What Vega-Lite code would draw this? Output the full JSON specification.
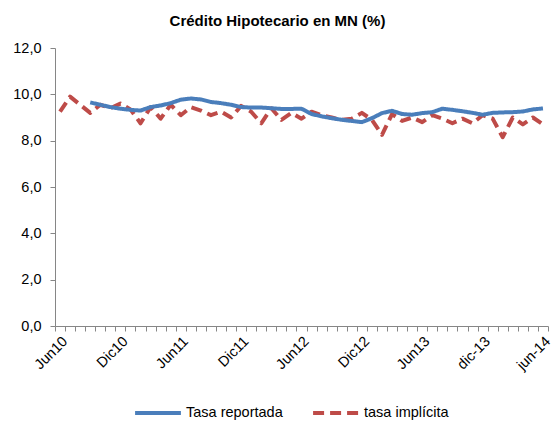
{
  "$schema": "https://vega.github.io/schema/vega-lite/v6.json",
  "width": 493,
  "height": 278,
  "autosize": {"type": "none"},
  "padding": {"left": 55, "top": 48, "right": 10, "bottom": 102},
  "background": "white",
  "config": {
    "view": {"stroke": null},
    "font": "Liberation Sans, Arial",
    "axis": {"domainColor": "#868686", "tickColor": "#868686", "labelColor": "#000000", "labelFont": "Liberation Sans", "labelFontSize": 14.5, "grid": false}
  },
  "title": {
    "text": "Crédito Hipotecario en MN (%)",
    "fontSize": 15,
    "fontWeight": "bold",
    "font": "Liberation Sans",
    "anchor": "middle",
    "dx": -24,
    "offset": 11,
    "color": "#000000"
  },
  "data": {
    "values": [
      {"m": "Jun10", "i": 9.25},
      {"m": "Jul10", "i": 9.9},
      {"m": "Ago10", "i": 9.55},
      {"m": "Sep10", "i": 9.2, "r": 9.65},
      {"m": "Oct10", "i": 9.55, "r": 9.55},
      {"m": "Nov10", "i": 9.4, "r": 9.45},
      {"m": "Dic10", "i": 9.6, "r": 9.38},
      {"m": "Ene11", "i": 9.35, "r": 9.33},
      {"m": "Feb11", "i": 8.75, "r": 9.3},
      {"m": "Mar11", "i": 9.45, "r": 9.45},
      {"m": "Abr11", "i": 8.95, "r": 9.52},
      {"m": "May11", "i": 9.55, "r": 9.62},
      {"m": "Jun11", "i": 9.1, "r": 9.77},
      {"m": "Jul11", "i": 9.45, "r": 9.82},
      {"m": "Ago11", "i": 9.3, "r": 9.78},
      {"m": "Sep11", "i": 9.1, "r": 9.67},
      {"m": "Oct11", "i": 9.25, "r": 9.62},
      {"m": "Nov11", "i": 9.0, "r": 9.55},
      {"m": "Dic11", "i": 9.5, "r": 9.45},
      {"m": "Ene12", "i": 9.25, "r": 9.43},
      {"m": "Feb12", "i": 8.75, "r": 9.43},
      {"m": "Mar12", "i": 9.4, "r": 9.4},
      {"m": "Abr12", "i": 8.9, "r": 9.37},
      {"m": "May12", "i": 9.2, "r": 9.37},
      {"m": "Jun12", "i": 8.95, "r": 9.38},
      {"m": "Jul12", "i": 9.25, "r": 9.15},
      {"m": "Ago12", "i": 9.1, "r": 9.05},
      {"m": "Sep12", "i": 9.0, "r": 8.97},
      {"m": "Oct12", "i": 8.9, "r": 8.9},
      {"m": "Nov12", "i": 8.95, "r": 8.85},
      {"m": "Dic12", "i": 9.2, "r": 8.8},
      {"m": "Ene13", "i": 8.9, "r": 8.97},
      {"m": "Feb13", "i": 8.25, "r": 9.19},
      {"m": "Mar13", "i": 9.15, "r": 9.29},
      {"m": "Abr13", "i": 8.85, "r": 9.15},
      {"m": "May13", "i": 9.0, "r": 9.12},
      {"m": "Jun13", "i": 8.8, "r": 9.19},
      {"m": "jul-13", "i": 9.1, "r": 9.23},
      {"m": "ago-13", "i": 8.95, "r": 9.38},
      {"m": "sep-13", "i": 8.75, "r": 9.33},
      {"m": "oct-13", "i": 8.95, "r": 9.27},
      {"m": "nov-13", "i": 8.75, "r": 9.2},
      {"m": "dic-13", "i": 9.1, "r": 9.12},
      {"m": "ene-14", "i": 8.95, "r": 9.2},
      {"m": "feb-14", "i": 8.15, "r": 9.22},
      {"m": "mar-14", "i": 9.0, "r": 9.23},
      {"m": "abr-14", "i": 8.7, "r": 9.26},
      {"m": "may-14", "i": 9.0, "r": 9.35},
      {"m": "jun-14", "i": 8.7, "r": 9.39}
    ]
  },
  "transform": [
    {"fold": ["r", "i"], "as": ["k", "v"]},
    {"lookup": "k", "from": {"data": {"values": [{"k": "r", "serie": "Tasa reportada"}, {"k": "i", "serie": "tasa implícita"}]}, "key": "k", "fields": ["serie"]}},
    {"filter": "isValid(datum.v)"}
  ],
  "mark": {"type": "line", "strokeWidth": 4, "strokeCap": "butt", "strokeJoin": "round"},
  "encoding": {
    "x": {
      "field": "m",
      "type": "ordinal",
      "sort": null,
      "bandPosition": 0.5,
      "scale": {"type": "band", "paddingInner": 0, "paddingOuter": 0},
      "axis": {
        "title": null,
        "tickBand": "extent",
        "tickSize": 5,
        "labelAngle": -45,
        "labelAlign": "right",
        "labelBaseline": "top",
        "labelPadding": 3,
        "labelOverlap": false,
        "labelExpr": "indexof(['Jun10','Dic10','Jun11','Dic11','Jun12','Dic12','Jun13','dic-13','jun-14'], datum.value) >= 0 ? datum.value : ''"
      }
    },
    "y": {
      "field": "v",
      "type": "quantitative",
      "scale": {"domain": [0, 12], "nice": false, "zero": true},
      "axis": {
        "title": null,
        "values": [0, 2, 4, 6, 8, 10, 12],
        "tickSize": 5,
        "labelPadding": 9,
        "labelExpr": "replace(format(datum.value, '.1f'), '.', ',')"
      }
    },
    "color": {
      "field": "serie",
      "type": "nominal",
      "sort": ["Tasa reportada", "tasa implícita"],
      "scale": {"domain": ["Tasa reportada", "tasa implícita"], "range": ["#4A7EBB", "#BE4B48"]},
      "legend": {
        "title": null,
        "orient": "none",
        "legendX": 78,
        "legendY": 340,
        "direction": "horizontal",
        "symbolType": "stroke",
        "symbolSize": 2100,
        "symbolStrokeWidth": 4,
        "labelFontSize": 14.5,
        "labelFont": "Liberation Sans",
        "labelColor": "#000000",
        "columnPadding": 22,
        "labelOffset": 3
      }
    },
    "strokeDash": {
      "field": "serie",
      "type": "nominal",
      "sort": ["Tasa reportada", "tasa implícita"],
      "scale": {"domain": ["Tasa reportada", "tasa implícita"], "range": [[1, 0], [11, 6]]},
      "legend": null
    }
  }
}
